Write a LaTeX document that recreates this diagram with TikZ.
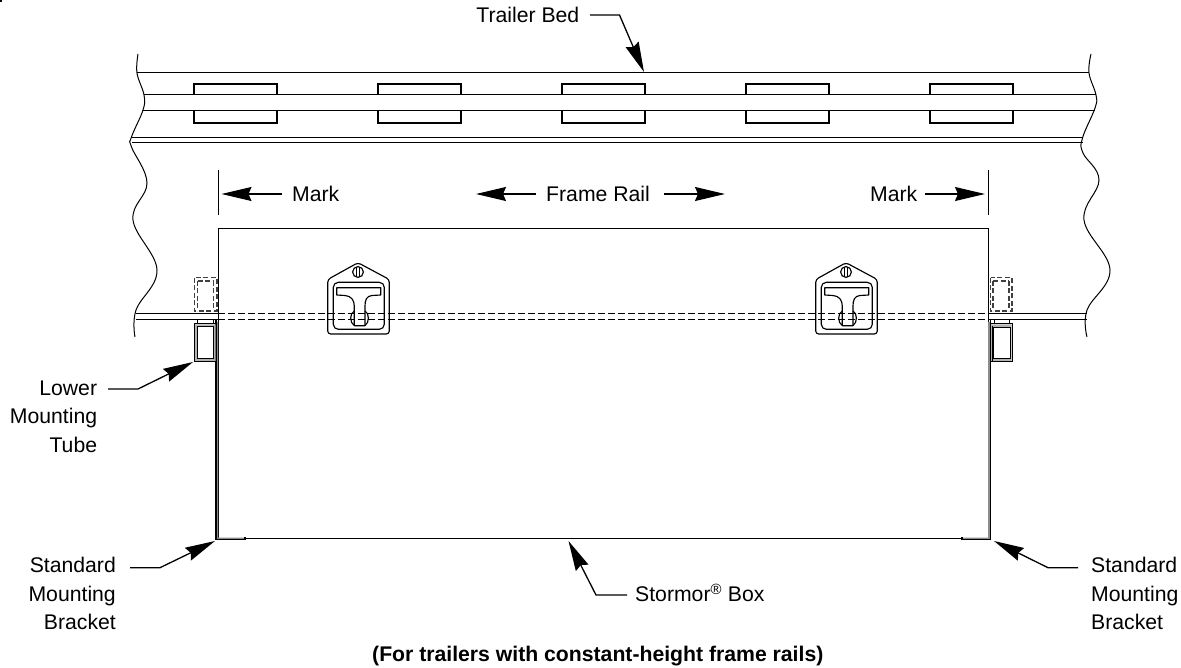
\documentclass[tikz,border=0pt]{standalone}
\usepackage{fontspec}
\setmainfont{Liberation Sans}
\usetikzlibrary{arrows.meta}
\tikzset{
  x=1pt,y=-1pt,
  ln/.style={line width=1.15pt,black},
  thin ln/.style={line width=1pt,black},
  dsh/.style={line width=1.1pt,black!75,dash pattern=on 5pt off 2.5pt},
  railDash/.style={line width=1.3pt,black,dash pattern=on 7.3pt off 2.7pt},
  lead/.style={line width=1.3pt,black,line join=miter,-{Stealth[length=30pt,width=14pt,inset=3pt]}},
  lbl/.style={font=\fontsize{21.2}{28.3}\selectfont,inner sep=0pt,align=left},
  lblr/.style={font=\fontsize{21.2}{28.3}\selectfont,inner sep=0pt,align=right},
  capt/.style={font=\fontsize{21.2}{26}\selectfont\bfseries,inner sep=0pt},
}
\newcommand{\latch}[1]{%
\begin{scope}[xshift=#1pt]
 \draw[ln,rounded corners=3pt] (358,262.7) -- (389.3,279.5) -- (389.3,334) -- (327.7,334) -- (327.7,279.5) -- cycle;
 \draw[ln,rounded corners=5pt] (333.3,282.3) rectangle (384.3,329.3);
 \draw[ln] (358,272) circle[radius=5.4];
 \draw[line width=1pt] (356.8,266.6) -- (356.8,277.4) (359.2,266.6) -- (359.2,277.4);
 \draw[ln] (354.3,311) .. controls (349.5,313) and (349.5,323) .. (354.3,325.5);
 \draw[ln] (365,311) .. controls (369.5,313) and (369.5,323) .. (365,325.5);
 \draw[ln,line join=round] (336.7,287.7) -- (380.7,287.7) -- (380.7,295) -- (372,295.5)
   .. controls (366.5,296) and (365,300) .. (365,306) -- (365,325.7) -- (354.3,325.7) -- (354.3,306)
   .. controls (354.3,300) and (351,296) .. (345,295.5) -- (336.7,295) -- cycle;
\end{scope}}
\begin{document}
\begin{tikzpicture}
\useasboundingbox (0,0) rectangle (1181,668);
\fill[black] (0,0) rectangle (2,2);
% wavy breaks
\draw[thin ln] plot[smooth,tension=.65] coordinates {(138,54)(137,73)(144,95)(143,110)(131.5,137)(131.5,147)(147,183)(133,220)(157,270)(136,310)(135,337)};
\draw[thin ln] plot[smooth,tension=.65] coordinates {(1091,54)(1089,73)(1096,95)(1095,108)(1082.5,138)(1083,153)(1099,180)(1084,220)(1110,270)(1087,310)(1087,337)};
% trailer bed rails
\draw[ln] (137,72.5) -- (1089,72.5);
\draw[ln] (144,94.5) -- (1096,94.5);
\draw[ln] (143,110.5) -- (1095,110.5);
\draw[ln] (131.5,137.5) -- (1082.5,137.5);
\draw[ln] (131.5,142.5) -- (1082.5,142.5);
\foreach \xx in {194,378,562,746,930} {
  \draw[ln] (\xx,94.5) -- (\xx,84) -- (\xx+83,84) -- (\xx+83,94.5);
  \draw[ln] (\xx,110.5) -- (\xx,123) -- (\xx+83,123) -- (\xx+83,110.5);
}
% box
\draw[ln] (218.5,538.5) -- (218.5,228.5) -- (988.5,228.5) -- (988.5,538.5) -- cycle;
\fill[black!45] (216,322) rectangle (218,539.5) (216,537.5) rectangle (245,539.5);
\fill[black!45] (988,322) rectangle (990,539.5) (962,537.5) rectangle (990,539.5);
\draw[ln] (216,320) -- (216,539.5) -- (245,539.5) -- (245,537);
\draw[ln] (990.5,320) -- (990.5,539.5) -- (962,539.5) -- (962,537);
% mark lines
\draw[line width=1.5pt] (218.5,170) -- (218.5,215);
\draw[line width=1.5pt] (988.5,170) -- (988.5,215);
% frame rail
\foreach \yy in {313.7,319.3} {
  \draw[ln] (135.5,\yy) -- (218,\yy);
  \draw[ln] (988,\yy) -- (1087,\yy);
}
% left mounting hardware
\draw[dsh] (194.7,277.7) rectangle (217,311);
\draw[dsh] (197.5,281) -- (197.5,311) (213.5,281) -- (213.5,311) (197.5,281) -- (213.5,281);
\draw[thin ln] (197,319.3) -- (197,324) (213,319.3) -- (213,324);
\fill[black!30,even odd rule] (195,324.5) rectangle (215.5,361) (197.5,327) rectangle (213.5,359);
\draw[thin ln] (194.5,324) rectangle (216,361.5);
\draw[thin ln] (197.5,327) rectangle (213.5,359);
% right mounting hardware
\draw[dsh] (990.7,277.7) rectangle (1012,311);
\draw[dsh] (993,281) -- (993,311) (1009,281) -- (1009,311) (993,281) -- (1009,281);
\draw[thin ln] (994,319.3) -- (994,324) (1009.5,319.3) -- (1009.5,324);
\fill[black!30,even odd rule] (990.5,324.5) rectangle (1011.5,361) (993.5,328) rectangle (1010.5,358.5);
\draw[thin ln] (990,324) rectangle (1012,361.5);
\draw[thin ln] (992,326) -- (992,361.5);
\draw[thin ln] (993.5,328) rectangle (1010.5,358.5);
% latches
\latch{0}
\latch{488}
% frame rail hidden through box
\draw[railDash] (218,313.7) -- (988,313.7);
\draw[railDash] (218,319.3) -- (988,319.3);
% labels
\node[lbl,anchor=base east] (trailer) at (579.5,23) {Trailer Bed};
\node[lbl,anchor=base west] (markL) at (292,201.7) {Mark};
\node[lbl,anchor=base west] (rail) at (546,201.7) {Frame Rail};
\node[lbl,anchor=base west] (markR) at (870,201.7) {Mark};
\node[lblr,anchor=north east] (lower) at (97.3,380.8) {Lower\\Mounting\\Tube};
\node[lblr,anchor=north east] (stdL) at (116,557.2) {Standard\\Mounting\\Bracket};
\node[lbl,anchor=north west] (stdR) at (1091,557.2) {Standard\\Mounting\\Bracket};
\node[lbl,anchor=base west] (stormor) at (635,601.7) {Stormor\textsuperscript{®} Box};
\node[capt,anchor=base west] (caption) at (372,661) {(For trailers with constant-height frame rails)};
% leader coordinates
\coordinate (tBedA) at (590,15); \coordinate (tBedB) at (619.5,15); \coordinate (tBedT) at (644,72);
\coordinate (mLT) at (221.5,194); \coordinate (mLS) at (282,194);
\coordinate (rLT) at (476,194); \coordinate (rLS) at (536,194);
\coordinate (rRT) at (725,194); \coordinate (rRS) at (664,194);
\coordinate (mRT) at (985,194); \coordinate (mRS) at (925,194);
\coordinate (lwA) at (108,389); \coordinate (lwB) at (138,389); \coordinate (lwT) at (193,362);
\coordinate (sLA) at (130,567.7); \coordinate (sLB) at (160,567.7); \coordinate (sLT) at (215,541);
\coordinate (sRA) at (1078,567.7); \coordinate (sRB) at (1048,567.7); \coordinate (sRT) at (994,541);
\coordinate (boxA) at (627,595); \coordinate (boxB) at (596,595); \coordinate (boxT) at (568.5,541);
\draw[lead] (tBedA) -- (tBedB) -- (tBedT);
\draw[lead] (mLS) -- (mLT);
\draw[lead] (rLS) -- (rLT);
\draw[lead] (rRS) -- (rRT);
\draw[lead] (mRS) -- (mRT);
\draw[lead] (lwA) -- (lwB) -- (lwT);
\draw[lead] (sLA) -- (sLB) -- (sLT);
\draw[lead] (sRA) -- (sRB) -- (sRT);
\draw[lead] (boxA) -- (boxB) -- (boxT);
\end{tikzpicture}
\end{document}
